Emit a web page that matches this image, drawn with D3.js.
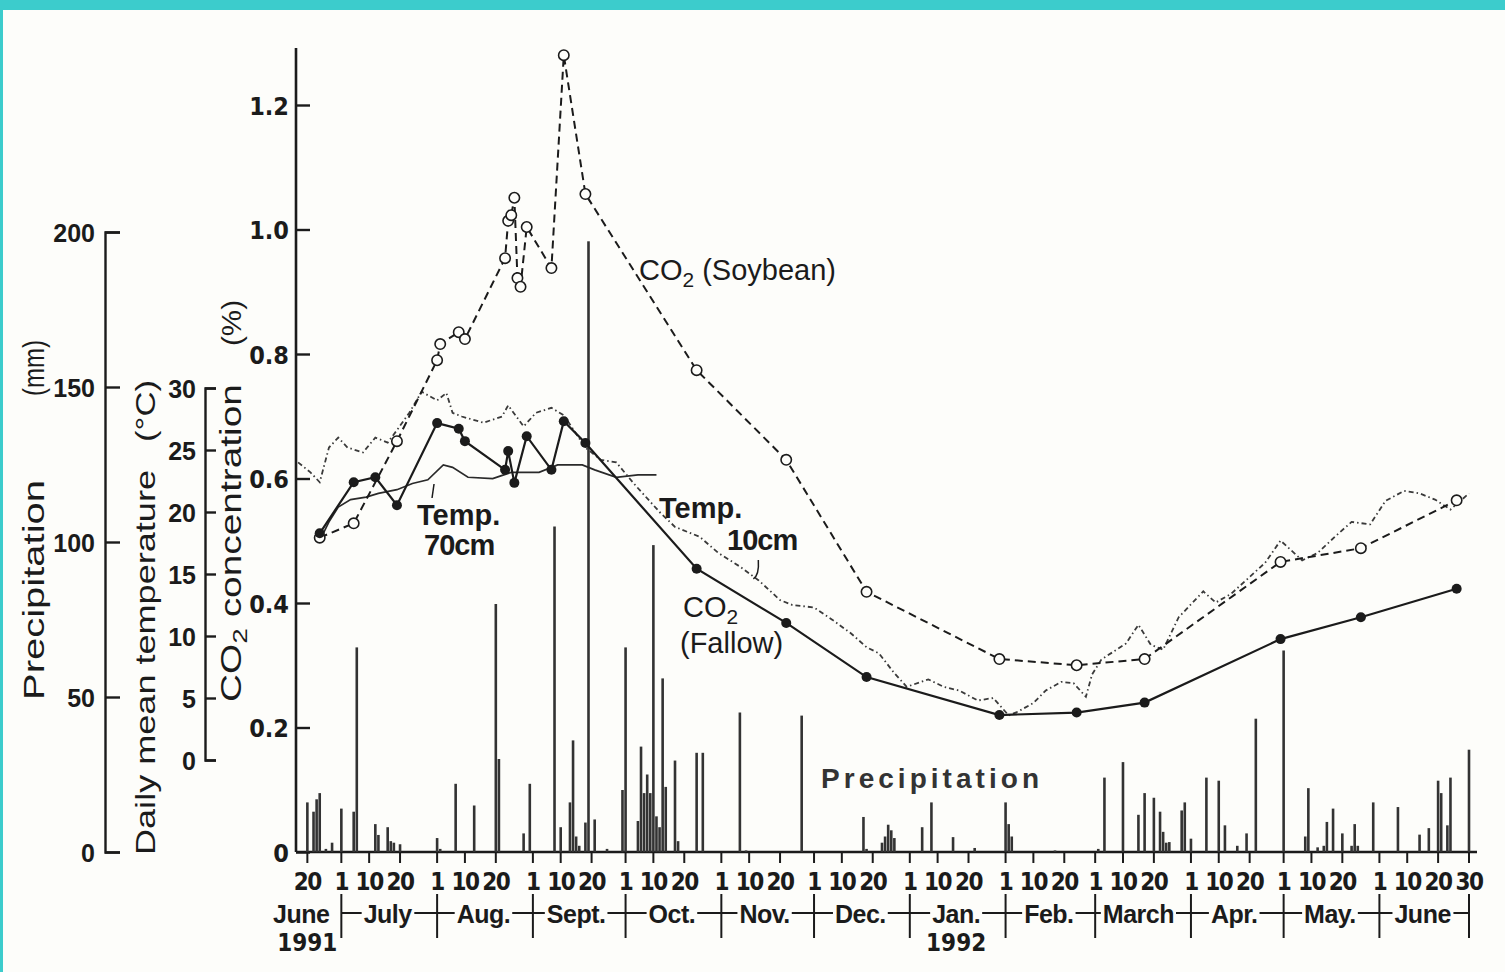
<!DOCTYPE html>
<html><head><meta charset="utf-8">
<script src="https://cdn.jsdelivr.net/npm/d3@7"></script>
<style>
body{margin:0;background:#fdfdfa;}
svg{display:block;}
</style></head>
<body><svg id="chart" width="1505" height="972"></svg>
<script>
// ---------------- DATA ----------------
const co2Soybean = [
 ["1991-06-24",0.505],["1991-07-05",0.528],["1991-07-19",0.660],["1991-08-01",0.790],
 ["1991-08-02",0.816],["1991-08-08",0.835],["1991-08-10",0.824],["1991-08-23",0.954],
 ["1991-08-24",1.014],["1991-08-25",1.023],["1991-08-26",1.051],["1991-08-27",0.922],
 ["1991-08-28",0.908],["1991-08-30",1.004],["1991-09-07",0.938],["1991-09-11",1.280],
 ["1991-09-18",1.057],["1991-10-24",0.774],["1991-11-22",0.630],["1991-12-18",0.418],
 ["1992-01-30",0.310],["1992-02-24",0.300],["1992-03-17",0.310],["1992-04-30",0.466],
 ["1992-05-26",0.488],["1992-06-26",0.565]
];
const co2Fallow = [
 ["1991-06-24",0.512],["1991-07-05",0.594],["1991-07-12",0.602],["1991-07-19",0.557],
 ["1991-08-01",0.689],["1991-08-08",0.680],["1991-08-10",0.660],["1991-08-23",0.614],
 ["1991-08-24",0.644],["1991-08-26",0.593],["1991-08-30",0.668],["1991-09-07",0.614],
 ["1991-09-11",0.692],["1991-09-18",0.657],["1991-10-24",0.455],["1991-11-22",0.368],
 ["1991-12-18",0.281],["1992-01-30",0.220],["1992-02-24",0.224],["1992-03-17",0.240],
 ["1992-04-30",0.342],["1992-05-26",0.377],["1992-06-26",0.423]
];
const temp10cm = [
 ["1991-06-17",24.0],["1991-06-21",23.2],["1991-06-24",22.4],["1991-06-27",25.2],["1991-06-30",26.0],
 ["1991-07-03",25.2],["1991-07-08",24.8],["1991-07-12",26.0],["1991-07-16",25.6],["1991-07-19",26.6],
 ["1991-07-23",28.0],["1991-07-27",29.7],["1991-08-01",29.0],["1991-08-04",29.6],["1991-08-06",28.0],
 ["1991-08-09",27.7],["1991-08-16",27.2],["1991-08-22",27.7],["1991-08-24",28.6],["1991-08-29",26.9],
 ["1991-09-02",28.0],["1991-09-07",28.4],["1991-09-11",27.8],["1991-09-18",25.2],["1991-09-23",24.2],
 ["1991-09-28",24.0],["1991-10-04",22.2],["1991-10-12",20.0],["1991-10-17",18.8],["1991-10-25",18.0],
 ["1991-10-31",16.7],["1991-11-07",15.6],["1991-11-13",14.5],["1991-11-20",12.9],["1991-11-24",12.5],
 ["1991-12-01",12.3],["1991-12-07",11.3],["1991-12-13",10.2],["1991-12-18",9.1],["1991-12-22",8.6],
 ["1991-12-27",7.0],["1991-12-31",5.9],["1992-01-07",6.5],["1992-01-12",5.9],["1992-01-17",5.6],
 ["1992-01-23",4.8],["1992-01-28",5.0],["1992-02-02",3.6],["1992-02-05",3.9],["1992-02-10",4.6],
 ["1992-02-14",5.6],["1992-02-19",6.3],["1992-02-23",6.2],["1992-02-27",5.1],["1992-02-29",6.9],
 ["1992-03-03",8.1],["1992-03-11",9.4],["1992-03-15",10.9],["1992-03-19",9.3],["1992-03-23",8.9],
 ["1992-03-28",11.5],["1992-04-05",13.6],["1992-04-09",12.7],["1992-04-14",13.4],["1992-04-25",15.9],
 ["1992-04-30",17.7],["1992-05-07",16.1],["1992-05-12",16.7],["1992-05-18",18.1],["1992-05-23",19.2],
 ["1992-05-29",19.0],["1992-06-03",20.9],["1992-06-09",21.7],["1992-06-14",21.5],["1992-06-19",21.0],
 ["1992-06-24",20.2],["1992-06-30",21.5]
];
const temp70cm = [
 ["1991-06-24",17.7],["1991-06-27",19.2],["1991-06-30",20.4],["1991-07-04",21.0],["1991-07-09",21.2],
 ["1991-07-13",21.5],["1991-07-19",21.8],["1991-07-24",22.3],["1991-07-29",22.6],["1991-08-03",23.8],
 ["1991-08-06",23.6],["1991-08-11",22.8],["1991-08-19",22.7],["1991-08-25",23.2],["1991-09-03",23.2],
 ["1991-09-09",23.8],["1991-09-17",23.8],["1991-09-21",23.4],["1991-09-28",22.8],["1991-10-05",23.0],
 ["1991-10-11",23.0]
];
const precipitation = [
 ["1991-06-20",16],["1991-06-22",13],["1991-06-23",17],["1991-06-24",19],["1991-06-26",1],["1991-06-28",3],
 ["1991-07-01",14],["1991-07-05",13],["1991-07-06",66],["1991-07-12",9],["1991-07-13",5.5],["1991-07-16",8],
 ["1991-07-17",3.5],["1991-07-18",3],["1991-07-20",2.5],["1991-08-01",4.5],["1991-08-02",1],["1991-08-07",22],
 ["1991-08-13",15],["1991-08-20",80],["1991-08-21",30],["1991-08-29",6],["1991-08-31",22],["1991-09-08",105],
 ["1991-09-10",8],["1991-09-13",16],["1991-09-14",36],["1991-09-15",5],["1991-09-16",2],["1991-09-18",9.5],
 ["1991-09-19",197],["1991-09-21",10.5],["1991-09-25",1],["1991-09-30",20],["1991-10-01",66],["1991-10-05",10],
 ["1991-10-06",34],["1991-10-07",19],["1991-10-08",25],["1991-10-09",19],["1991-10-10",99],["1991-10-11",11.5],
 ["1991-10-12",8],["1991-10-13",56],["1991-10-14",21],["1991-10-17",29.5],["1991-10-18",3.5],["1991-10-24",32],
 ["1991-10-26",32],["1991-11-07",45],["1991-11-09",0.5],["1991-11-27",44],["1991-12-17",11.3],["1991-12-18",1],
 ["1991-12-23",3],["1991-12-24",5],["1991-12-25",8.8],["1991-12-26",7],["1991-12-27",4.5],["1992-01-05",8],
 ["1992-01-08",16],["1992-01-15",4.8],["1992-01-22",1.3],["1992-02-01",16],["1992-02-02",9],["1992-02-03",5],
 ["1992-02-17",0.5],["1992-03-02",1],["1992-03-04",24],["1992-03-10",29],["1992-03-15",12],["1992-03-17",19],
 ["1992-03-20",17.5],["1992-03-22",13],["1992-03-23",6.5],["1992-03-24",3],["1992-03-25",3.2],["1992-03-29",13.4],
 ["1992-03-30",16],["1992-04-01",4.3],["1992-04-06",24],["1992-04-10",23],["1992-04-12",8.6],["1992-04-16",2],
 ["1992-04-19",6],["1992-04-22",43],["1992-05-01",65],["1992-05-08",5],["1992-05-09",20.6],["1992-05-12",1.5],
 ["1992-05-14",2],["1992-05-15",9.7],["1992-05-17",14],["1992-05-20",6],["1992-05-23",2],["1992-05-24",9],
 ["1992-05-25",2],["1992-05-30",16],["1992-06-07",14.5],["1992-06-14",5.6],["1992-06-17",7.7],["1992-06-20",23],
 ["1992-06-21",19],["1992-06-23",8.6],["1992-06-24",24],["1992-06-30",33]
];
const co2Ticks = [0,0.2,0.4,0.6,0.8,1.0,1.2];
const co2TickLabels = ["0","0.2","0.4","0.6","0.8","1.0","1.2"];
const precipTicks = [0,50,100,150,200];
const tempTicks = [0,5,10,15,20,25,30];
const dayTicks = ["1991-06-20","1991-07-01","1991-07-10","1991-07-20","1991-08-01","1991-08-10","1991-08-20",
 "1991-09-01","1991-09-10","1991-09-20","1991-10-01","1991-10-10","1991-10-20","1991-11-01","1991-11-10","1991-11-20",
 "1991-12-01","1991-12-10","1991-12-20","1992-01-01","1992-01-10","1992-01-20","1992-02-01","1992-02-10","1992-02-20",
 "1992-03-01","1992-03-10","1992-03-20","1992-04-01","1992-04-10","1992-04-20","1992-05-01","1992-05-10","1992-05-20",
 "1992-06-01","1992-06-10","1992-06-20","1992-06-30"];
const monthNames = ["June","July","Aug.","Sept.","Oct.","Nov.","Dec.","Jan.","Feb.","March","Apr.","May.","June"];
const monthLabelDates = ["1991-06-18","1991-07-16","1991-08-16","1991-09-15","1991-10-16","1991-11-15","1991-12-16",
 "1992-01-16","1992-02-15","1992-03-15","1992-04-15","1992-05-16","1992-06-15"];
const monthBounds = ["1991-07-01","1991-08-01","1991-09-01","1991-10-01","1991-11-01","1991-12-01","1992-01-01",
 "1992-02-01","1992-03-01","1992-04-01","1992-05-01","1992-06-01","1992-06-30"];
const yearLabels = [["1991-06-20","1991"],["1992-01-16","1992"]];

// ---------------- SETUP ----------------
const parse = d3.timeParse("%Y-%m-%d");
const svg = d3.select("#chart");
const W = 1505, H = 972;
const INK = "#1b1b1b";
const FONT = "'Liberation Sans Narrow','DejaVu Sans Condensed','Liberation Sans',Arial,sans-serif";
const FONTW = "'Liberation Sans',Arial,sans-serif";

const x = d3.scaleTime().domain([parse("1991-06-16"), parse("1992-06-30")]).range([295, 1469]);
const yCO2 = d3.scaleLinear().domain([0, 1.2]).range([852, 105]);
const yPrec = d3.scaleLinear().domain([0, 200]).range([852, 232]);
const yTemp = d3.scaleLinear().domain([0, 30]).range([760, 388]);

svg.append("rect").attr("width", W).attr("height", H).attr("fill", "#fdfdfa");
svg.append("rect").attr("width", W).attr("height", 10).attr("fill", "#3ccccc");
svg.append("rect").attr("width", 3).attr("height", H).attr("fill", "#3ccccc");

function styleAxis(g, fs, fam) {
  g.attr("font-family", null).attr("font-size", null).attr("fill", null);
  g.selectAll("path,line").attr("stroke", INK).attr("stroke-width", 2.4).attr("fill", "none");
  g.selectAll("text").attr("font-size", fs).attr("font-weight", "bold")
   .attr("fill", INK).attr("font-family", fam).attr("dy", "0.36em");
}

// CO2 axis
const gCO2 = svg.append("g").attr("transform", "translate(296,0)")
  .call(d3.axisLeft(yCO2).tickValues(co2Ticks).tickFormat((d, i) => co2TickLabels[i])
    .tickSizeInner(-14).tickSizeOuter(0).tickPadding(7));
gCO2.select(".domain").remove();
styleAxis(gCO2, 25, FONT);
svg.append("line").attr("x1", 296).attr("x2", 296).attr("y1", 48).attr("y2", yCO2(0))
  .attr("stroke", INK).attr("stroke-width", 2.6);

// Precip axis
const gP = svg.append("g").attr("transform", "translate(105,0)")
  .call(d3.axisLeft(yPrec).tickValues(precipTicks).tickSizeInner(-15).tickSizeOuter(-15).tickPadding(10));
styleAxis(gP, 25, FONTW);

// Temp axis
const gT = svg.append("g").attr("transform", "translate(205,0)")
  .call(d3.axisLeft(yTemp).tickValues(tempTicks).tickSizeInner(-11).tickSizeOuter(-11).tickPadding(9));
styleAxis(gT, 25, FONTW);

// Axis titles (rotated)
function vText(xPos, yStart, len, str, fs, sub) {
  const t = svg.append("text").attr("transform", `translate(${xPos},${yStart}) rotate(-90)`)
    .attr("font-family", FONTW).attr("font-size", fs).attr("fill", INK);
  if (sub) {
    t.append("tspan").text(str[0]);
    t.append("tspan").attr("font-size", fs * 0.72).attr("dy", 6).text(str[1]);
    t.append("tspan").attr("dy", -6).text(str[2]);
  } else t.text(str);
  if (len) t.attr("textLength", len).attr("lengthAdjust", "spacingAndGlyphs");
  return t;
}
vText(44, 700, 220, "Precipitation", 29);
vText(44, 396, 56, "(mm)", 29);
vText(155, 855, 385, "Daily mean temperature", 28);
vText(155, 442, 62, "(°C)", 28);
vText(241, 702, 318, ["CO", "2", " concentration"], 29, true);
vText(241, 346, 46, "(%)", 28);

// X axis
svg.append("line").attr("x1", 296).attr("x2", x(parse("1992-06-30")) + 8)
  .attr("y1", 852).attr("y2", 852).attr("stroke", INK).attr("stroke-width", 2.6);
const gX = svg.append("g");
gX.selectAll("line.tk").data(dayTicks).join("line").attr("class", "tk")
  .attr("x1", d => x(parse(d))).attr("x2", d => x(parse(d)))
  .attr("y1", 852).attr("y2", 863).attr("stroke", INK).attr("stroke-width", 2);
gX.selectAll("text.dl").data(dayTicks).join("text").attr("class", "dl")
  .attr("x", d => x(parse(d))).attr("y", 890).attr("text-anchor", "middle")
  .attr("font-family", FONT).attr("font-weight", "bold").attr("font-size", 24)
  .attr("letter-spacing", -1.5).attr("fill", INK)
  .text(d => parse(d).getDate());

// month separators row
const xb = monthBounds.map(d => x(parse(d)));
svg.append("line").attr("x1", xb[0]).attr("x2", xb[xb.length - 1]).attr("y1", 913).attr("y2", 913)
  .attr("stroke", INK).attr("stroke-width", 2);
svg.selectAll("line.sep").data(monthBounds).join("line").attr("class", "sep")
  .attr("x1", d => x(parse(d))).attr("x2", d => x(parse(d)))
  .attr("y1", 894).attr("y2", 938).attr("stroke", INK).attr("stroke-width", 2);
const mg = svg.append("g");
monthNames.forEach((m, i) => {
  const g = mg.append("g");
  const t = g.append("text").attr("x", x(parse(monthLabelDates[i]))).attr("y", 923)
    .attr("text-anchor", "middle").attr("font-family", FONTW).attr("font-weight", "bold")
    .attr("font-size", 25).attr("letter-spacing", -0.5).attr("fill", INK).text(m);
  const bb = t.node().getBBox();
  g.insert("rect", "text").attr("x", bb.x - 2).attr("y", bb.y + 4).attr("width", bb.width + 4)
    .attr("height", bb.height - 6).attr("fill", "#fdfdfa");
});
svg.selectAll("text.yr").data(yearLabels).join("text").attr("class", "yr")
  .attr("x", d => x(parse(d[0]))).attr("y", 951).attr("text-anchor", "middle")
  .attr("font-family", FONT).attr("font-weight", "bold").attr("font-size", 24).attr("fill", INK)
  .text(d => d[1]);

// Precipitation bars
svg.append("g").selectAll("rect").data(precipitation).join("rect")
  .attr("x", d => x(parse(d[0])) - 1.3).attr("width", 2.6)
  .attr("y", d => yPrec(d[1])).attr("height", d => yPrec(0) - yPrec(d[1]))
  .attr("fill", "#333");

// Temperature lines
const tLine = d3.line().x(d => x(parse(d[0]))).y(d => yTemp(d[1]));
svg.append("path").datum(temp70cm).attr("d", tLine).attr("fill", "none")
  .attr("stroke", "#2a2a2a").attr("stroke-width", 1.7);
svg.append("path").datum(temp10cm).attr("d", tLine).attr("fill", "none")
  .attr("stroke", "#3a3a3a").attr("stroke-width", 1.8).attr("stroke-dasharray", "5,3,1.5,3");

// CO2 lines
const cLine = d3.line().x(d => x(parse(d[0]))).y(d => yCO2(d[1]));
svg.append("path").datum(co2Soybean).attr("d", cLine).attr("fill", "none")
  .attr("stroke", INK).attr("stroke-width", 2).attr("stroke-dasharray", "8,5");
svg.append("path").datum(co2Fallow).attr("d", cLine).attr("fill", "none")
  .attr("stroke", INK).attr("stroke-width", 2.2);
svg.append("g").selectAll("circle").data(co2Soybean).join("circle")
  .attr("cx", d => x(parse(d[0]))).attr("cy", d => yCO2(d[1])).attr("r", 5.2)
  .attr("fill", "#fdfdfa").attr("stroke", INK).attr("stroke-width", 1.6);
svg.append("g").selectAll("circle").data(co2Fallow).join("circle")
  .attr("cx", d => x(parse(d[0]))).attr("cy", d => yCO2(d[1])).attr("r", 5)
  .attr("fill", INK);

// Annotations
function label(xp, yp, parts, fs, fam, weight) {
  const t = svg.append("text").attr("x", xp).attr("y", yp).attr("font-family", fam)
    .attr("font-size", fs).attr("font-weight", weight || "normal").attr("fill", INK);
  parts.forEach(p => {
    const s = t.append("tspan").text(p.t);
    if (p.sub) s.attr("font-size", fs * 0.72).attr("dy", 7);
    if (p.up) s.attr("dy", -7);
  });
  return t;
}
label(639, 280, [{t: "CO"}, {t: "2", sub: true}, {t: " (Soybean)", up: true}], 29, FONTW, "500");
label(417, 525, [{t: "Temp."}], 29, FONTW, "bold");
label(424, 555, [{t: "70cm"}], 29, FONTW, "bold").attr("letter-spacing", -1);
label(659, 518, [{t: "Temp."}], 29, FONTW, "bold");
label(727, 550, [{t: "10cm"}], 29, FONTW, "bold").attr("letter-spacing", -1);
label(683, 617, [{t: "CO"}, {t: "2", sub: true}], 29, FONTW, "500");
label(680, 653, [{t: "(Fallow)"}], 29, FONTW, "500");
label(821, 788, [{t: "Precipitation"}], 28, FONTW, "bold").attr("textLength", 218).attr("fill", "#333");

// leader lines
const lx1 = x(parse("1991-07-31"));
svg.append("line").attr("x1", lx1).attr("x2", lx1 - 2).attr("y1", yTemp(22.5) + 3).attr("y2", 498)
  .attr("stroke", INK).attr("stroke-width", 1.5);
const lx2 = x(parse("1991-11-12"));
svg.append("path").attr("d", `M${lx2 + 3},560 Q${lx2 + 4},575 ${lx2 - 2},${yTemp(14.6)}`)
  .attr("fill", "none").attr("stroke", INK).attr("stroke-width", 1.5);
</script></body></html>
